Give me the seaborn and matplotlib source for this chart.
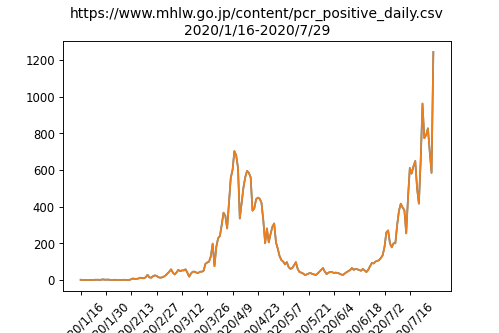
import matplotlib
matplotlib.use("Agg")
import matplotlib.pyplot as plt
import seaborn as sns
import numpy as np
import pandas as pd

start_date = "2020-01-16"
end_date = "2020-07-29"
title_text = "https://www.mhlw.go.jp/content/pcr_positive_daily.csv\n2020/1/16-2020/7/29"

positives = [
    1, 0, 0, 0, 0, 0, 0, 0, 1, 1,
    1, 0, 3, 2, 1, 2, 1, 0, 0, 1,
    0, 0, 0, 0, 1, 0, 0, 0, 4, 8,
    5, 6, 8, 12, 10, 9, 15, 28, 14, 12,
    20, 25, 22, 15, 12, 14, 18, 25, 35, 45,
    58, 40, 30, 40, 55, 48, 52, 52, 58, 40,
    18, 35, 45, 45, 40, 38, 45, 45, 50, 88,
    95, 100, 130, 198, 75, 180, 227, 240, 300, 367,
    350, 281, 420, 557, 600, 703, 680, 611, 335, 420,
    503, 560, 595, 584, 560, 378, 390, 440, 449, 443,
    420, 324, 200, 281, 205, 250, 290, 308, 205, 170,
    130, 108, 100, 85, 97, 70, 60, 65, 80, 97,
    60, 43, 40, 35, 27, 30, 35, 38, 33, 30,
    27, 35, 45, 55, 65, 45, 32, 40, 43, 43,
    38, 40, 38, 35, 30, 27, 35, 42, 48, 54,
    65, 55, 60, 58, 54, 50, 60, 52, 43, 55,
    75, 92, 90, 100, 104, 108, 120, 135, 180, 259,
    270, 200, 178, 200, 200, 300, 378, 416, 395, 380,
    254, 450, 611, 580, 620, 649, 500, 416, 650, 962,
    773, 790, 827, 700, 584, 1243,
]

dates = pd.date_range(start_date, end_date, freq="D")
date_labels = [f"{d.year}/{d.month}/{d.day}" for d in dates]
pos = np.arange(len(dates))
df = pd.DataFrame({"pos": pos, "positive": positives[: len(dates)]})

fig = plt.figure(figsize=(6, 4), dpi=83.33)
ax = fig.add_subplot(111)
fig.subplots_adjust(left=0.126, right=0.902, top=0.877, bottom=0.125)
sns.lineplot(data=df, x="pos", y="positive", color="C0", ax=ax, linewidth=1.5)
sns.lineplot(data=df, x="pos", y="positive", color="C1", ax=ax, linewidth=1.5, alpha=0.92)
ax.set_xlabel("")
ax.set_ylabel("")
tick_idx = list(range(0, len(dates), 14))
ax.set_xticks(tick_idx)
ax.set_xticklabels([date_labels[i] for i in tick_idx], rotation=45)
ax.set_title(title_text)
fig.savefig("out.png", dpi=83.33)
